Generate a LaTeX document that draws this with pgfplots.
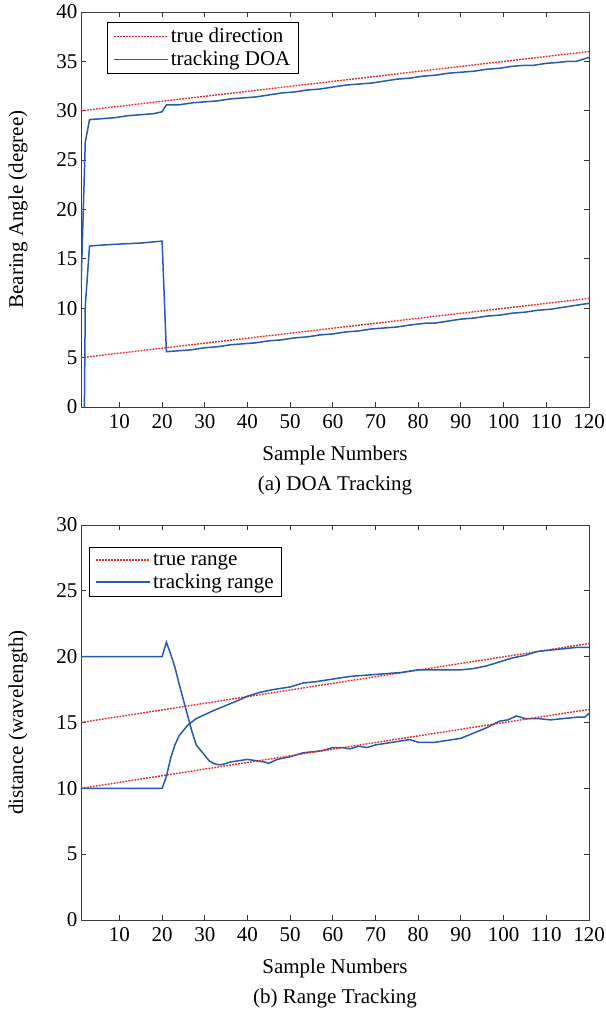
\documentclass[border=0pt]{standalone}
\usepackage{fontspec}
\setmainfont{Liberation Serif}
\usepackage{pgfplots}
\pgfplotsset{compat=1.18}

\definecolor{trk}{RGB}{40,90,175}
\definecolor{tru}{RGB}{235,40,40}

\newcommand{\fs}{\fontsize{21}{24}\selectfont}

\tikzset{
 truestyle/.style={color=tru, line width=1.4pt, dash pattern=on 1.8pt off 1.2pt},
 trkstyle/.style={color=trk, line width=1.5pt, solid},
}

\pgfplotsset{
 mystyle/.style={
  scale only axis, width=508pt, height=395pt,
  xmin=1, xmax=120, xtick={10,20,...,120},
  tick align=inside, major tick length=5pt,
  axis line style={draw=black!75, line width=0.9pt},
  every tick/.style={black!80, line width=0.9pt},
  tick label style={font=\fs},
  label style={font=\fs},
  /pgf/number format/assume math mode=true,
  xticklabel style={yshift=-4pt},
  xlabel={Sample Numbers},
  xlabel style={at={(axis description cs:0.5,-0.122)},anchor=center},
  ylabel style={at={(axis description cs:-0.124,0.5)},anchor=center},
  legend style={font=\fs, draw=black, line width=0.8pt, inner xsep=6pt, inner ysep=4pt, row sep=3pt, cells={anchor=west}},
  legend image code/.code={\draw[#1, line width=1.5pt] (0pt,0pt) -- (50pt,0pt); \path (0pt,0pt) -- (54pt,0pt);},
 },
}

\pgfplotstableread{
x y
1 30
120 36
}\trueA
\pgfplotstableread{
x y
1 5
120 11
}\trueB
\pgfplotstableread{
x y
1 12.0
2 26.8
3 29.1
6 29.2
9 29.3
12 29.5
15 29.6
18 29.7
20 29.9
21 30.6
24 30.6
27 30.8
30 30.9
33 31.0
36 31.2
39 31.3
42 31.4
45 31.6
48 31.8
51 31.9
54 32.1
57 32.2
60 32.4
63 32.6
66 32.7
69 32.8
72 33.0
75 33.2
78 33.3
81 33.5
84 33.6
87 33.8
90 33.9
93 34.0
96 34.2
99 34.3
102 34.5
105 34.6
107 34.6
110 34.8
113 34.9
115 35.0
117 35.0
120 35.4
}\doaA
\pgfplotstableread{
x y
1 -40
2 10.2
3 16.3
6 16.4
10 16.5
15 16.6
20 16.8
21 5.6
24 5.7
27 5.8
30 6.0
33 6.1
36 6.3
39 6.4
42 6.5
45 6.7
48 6.8
51 7.0
54 7.1
57 7.3
60 7.4
63 7.6
66 7.7
69 7.9
72 8.0
75 8.1
78 8.3
80 8.4
82 8.5
84 8.5
87 8.7
90 8.9
93 9.0
96 9.2
99 9.3
102 9.5
105 9.6
108 9.8
111 9.9
114 10.1
117 10.3
120 10.5
}\doaB
\pgfplotstableread{
x y
1 15
120 21
}\rtrueA
\pgfplotstableread{
x y
1 10
120 16
}\rtrueB
\pgfplotstableread{
x y
1 20
20 20
21 21.1
22 20.2
23 19.2
24 17.9
25 16.7
26 15.5
27 14.3
28 13.3
29 12.9
30 12.5
31 12.1
32 11.9
33 11.8
34 11.8
35 11.9
36 12.0
38 12.1
40 12.2
42 12.1
44 12.0
45 11.9
47 12.2
50 12.4
53 12.7
56 12.8
58 12.9
60 13.1
62 13.1
64 13.0
66 13.2
68 13.1
70 13.3
72 13.4
74 13.5
76 13.6
78 13.7
80 13.5
82 13.5
84 13.5
86 13.6
88 13.7
90 13.8
93 14.2
96 14.6
99 15.1
101 15.2
103 15.5
105 15.3
108 15.3
111 15.2
114 15.3
117 15.4
119 15.4
120 15.7
}\rngA
\pgfplotstableread{
x y
1 10
20 10
21 10.9
22 12.3
23 13.3
24 14.0
25 14.4
26 14.8
28 15.3
30 15.6
32 15.9
35 16.3
38 16.7
40 17.0
43 17.3
46 17.5
50 17.7
53 18.0
56 18.1
60 18.3
64 18.5
68 18.6
72 18.7
76 18.8
80 19.0
85 19.0
90 19.0
93 19.1
96 19.3
99 19.6
102 19.9
105 20.1
108 20.4
111 20.5
114 20.6
117 20.7
120 20.7
}\rngB

\begin{document}
\begin{tikzpicture}
\useasboundingbox (-81pt,12pt) rectangle (524pt,-1004pt);
\begin{axis}[mystyle, name=ax1, at={(0pt,0pt)}, anchor=north west,
  ymin=0, ymax=40, ytick={0,5,...,40},
  ylabel={Bearing Angle (degree)},
  legend style={at={(axis description cs:0.051,0.975)}, anchor=north west}]
\addplot[truestyle] table {\trueA};
\addlegendentry{true direction}
\addplot[trkstyle] table {\doaA};
\addlegendentry{tracking DOA}
\addplot[truestyle, forget plot] table {\trueB};
\addplot[trkstyle, forget plot] table {\doaB};
\end{axis}
\node[font=\fs] at ([yshift=-78pt]ax1.south) {(a) DOA Tracking};

\begin{axis}[mystyle, name=ax2, at={(0pt,-513pt)}, anchor=north west,
  ymin=0, ymax=30, ytick={0,5,...,30},
  ylabel={distance (wavelength)},
  legend style={at={(axis description cs:0.016,0.944)}, anchor=north west}]
\addplot[truestyle] table {\rtrueA};
\addlegendentry{true range}
\addplot[trkstyle] table {\rngA};
\addlegendentry{tracking range}
\addplot[truestyle, forget plot] table {\rtrueB};
\addplot[trkstyle, forget plot] table {\rngB};
\end{axis}
\node[font=\fs] at ([yshift=-78pt]ax2.south) {(b) Range Tracking};
\end{tikzpicture}
\end{document}
